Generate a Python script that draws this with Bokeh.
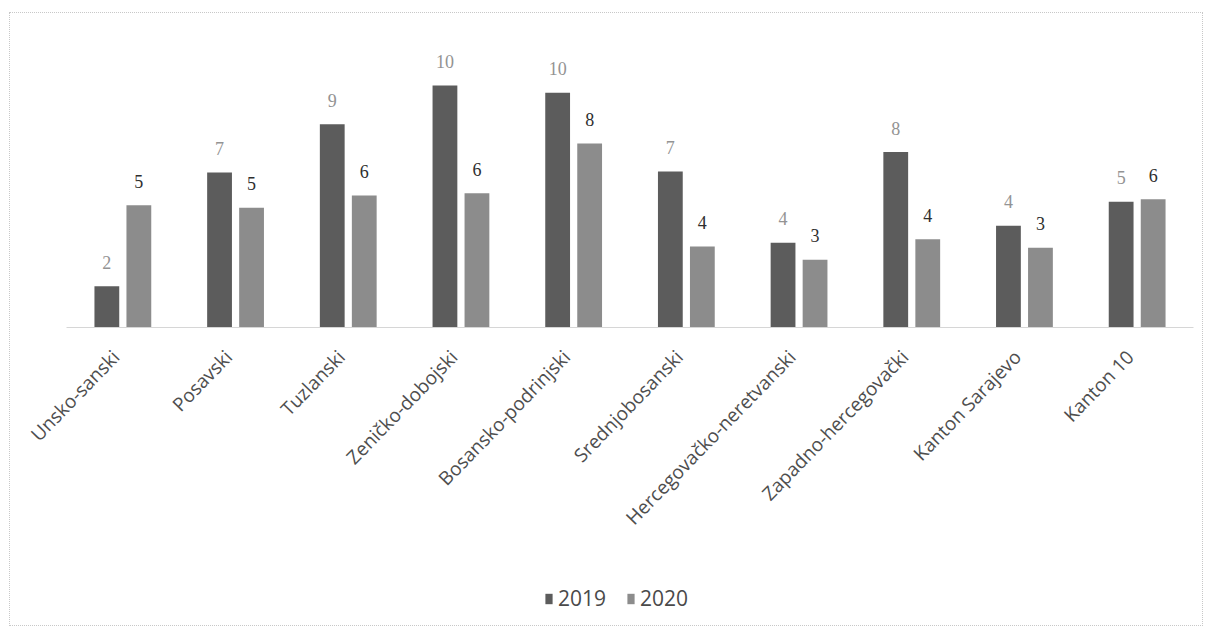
from bokeh.plotting import figure
from bokeh.models import ColumnDataSource, LabelSet, Legend, LegendItem, Range1d, FixedTicker
from bokeh.transform import dodge
from bokeh.embed import file_html
from bokeh.resources import INLINE

categories = ["Unsko-sanski", "Posavski", "Tuzlanski", "Zeničko-dobojski", "Bosansko-podrinjski",
              "Srednjobosanski", "Hercegovačko-neretvanski", "Zapadno-hercegovački",
              "Kanton Sarajevo", "Kanton 10"]
# bar heights as drawn
values_2019 = [1.7, 6.4, 8.4, 10.0, 9.7, 6.45, 3.5, 7.25, 4.2, 5.2]
values_2020 = [5.05, 4.95, 5.45, 5.55, 7.6, 3.35, 2.8, 3.65, 3.3, 5.3]
# data labels as printed
labels_2019 = ["2", "7", "9", "10", "10", "7", "4", "8", "4", "5"]
labels_2020 = ["5", "5", "6", "6", "8", "4", "3", "4", "3", "6"]
series = ["2019", "2020"]

FONT = "Open Sans"
C2019 = "#5c5c5c"
C2020 = "#8c8c8c"

xs = list(range(len(categories)))
src = ColumnDataSource(dict(x=xs, cat=categories, v19=values_2019, v20=values_2020,
                            l19=labels_2019, l20=labels_2020))

W, H = 1194, 614
pad_left_px, pad_right_px = 56, 11
px_per_cat = 112.7
top, bottom = 32, 10
base_y = 314          # baseline, px from figure top
px_per_unit = 24.2
y_end = (base_y - top) / px_per_unit
y_start = -(H - bottom - base_y) / px_per_unit
n = len(categories)
x_start = -0.5 - pad_left_px / px_per_cat
x_end = n - 0.5 + pad_right_px / px_per_cat

p = figure(width=W, height=H, x_range=Range1d(x_start, x_end),
           y_range=Range1d(y_start, y_end), output_backend="svg", toolbar_location=None,
           min_border_left=0, min_border_right=0, min_border_top=top,
           min_border_bottom=bottom)
p.margin = (12, 0, 0, 9)
p.styles = {"border": "1px dotted #c8c8c8"}
p.outline_line_color = None
p.background_fill_color = "white"
p.border_fill_color = "white"
p.xgrid.visible = False
p.ygrid.visible = False
p.yaxis.visible = False

off = 0.142
bw = 0.22
r1 = p.vbar(x=dodge("x", -off), top="v19", width=bw, source=src,
            fill_color=C2019, line_color=None)
r2 = p.vbar(x=dodge("x", off), top="v20", width=bw, source=src,
            fill_color=C2020, line_color=None)

lab1 = LabelSet(x=dodge("x", -off), y="v19", text="l19", source=src,
                y_offset=24, text_align="center", text_baseline="middle",
                text_font=FONT, text_font_size="18px", text_color="#939393")
lab2 = LabelSet(x=dodge("x", off), y="v20", text="l20", source=src,
                y_offset=24, text_align="center", text_baseline="middle",
                text_font=FONT, text_font_size="18px", text_color="#2e2e2e")
p.add_layout(lab1)
p.add_layout(lab2)

shift = -0.0625
tick_pos = [i + shift for i in xs]
ax = p.xaxis[0]
ax.fixed_location = 0
ax.bounds = (-0.5, n - 0.5)
ax.ticker = FixedTicker(ticks=tick_pos, minor_ticks=[])
ax.major_label_overrides = {t: c for t, c in zip(tick_pos, categories)}
ax.axis_line_color = "#d6d6d6"
ax.axis_line_width = 1
ax.major_tick_line_color = None
ax.minor_tick_line_color = None
ax.major_label_orientation = 0.8
ax.major_label_text_font = FONT
ax.major_label_text_font_size = "19px"
ax.major_label_text_color = "#4e4e4e"
ax.major_label_standoff = 20

legend = Legend(items=[LegendItem(label=series[0], renderers=[r1]),
                       LegendItem(label=series[1], renderers=[r2])],
                orientation="horizontal", location=(479 + pad_left_px - 1, 5),
                glyph_width=9, glyph_height=13, label_text_font=FONT,
                label_text_font_size="21px", label_text_color="#4a4a4a",
                label_standoff=5, spacing=20, padding=0, margin=0,
                border_line_color=None, background_fill_alpha=0)
p.add_layout(legend, "center")

open("out.html", "w").write(file_html(p, INLINE))
